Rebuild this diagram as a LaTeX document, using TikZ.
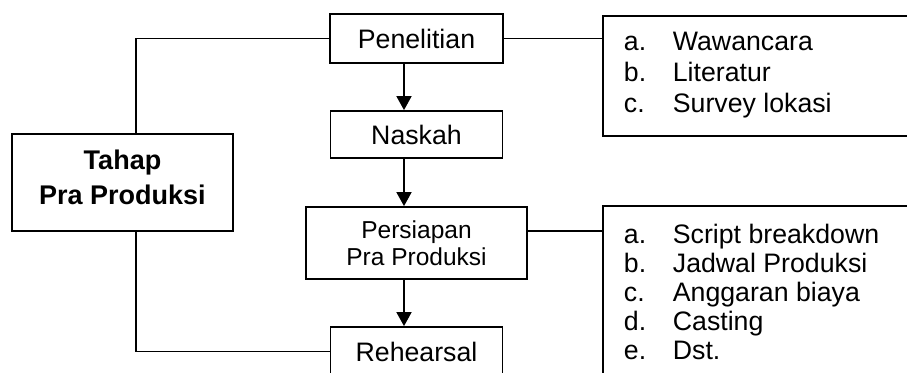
\documentclass[tikz,border=0pt]{standalone}
\usepackage{fontspec}
\setmainfont{Liberation Sans}
\usetikzlibrary{arrows.meta}
\tikzset{
  stepbox/.style={draw, rectangle, inner sep=0pt, align=center,
    font=\fontsize{26.7}{31}\selectfont},
  listbox/.style={draw, rectangle, inner sep=0pt, anchor=north west},
  listitem/.style={anchor=base west, inner sep=0pt,
    font=\fontsize{26.7}{31}\selectfont},
  link/.style={line width=1.8pt},
  flow/.style={link, -{Triangle[width=15pt,length=14pt]}}
}
\newcommand{\lbl}[1]{\makebox[49pt][l]{#1}}
\begin{document}
\begin{tikzpicture}[x=1pt, y=-1pt, line width=1.8pt]
\useasboundingbox (0,0) rectangle (907,372);
\clip (0,0) rectangle (907,372);
\fill[white] (0,0) rectangle (907,372);

% main steps
\node[stepbox, minimum width=173pt, minimum height=49pt] (pen) at (416.5,38.5) {Penelitian};
\node[stepbox, minimum width=172pt, minimum height=47pt] (nas) at (416.5,134.5) {Naskah};
\node[stepbox, minimum width=221pt, minimum height=72pt,
      font=\fontsize{24.5}{27}\selectfont] (pers) at (416.5,243) {Persiapan\\Pra Produksi};
\node[stepbox, minimum width=172pt, minimum height=49pt] (reh) at (416.5,351.5) {Rehearsal};

% stage box
\node[stepbox, minimum width=221pt, minimum height=97pt,
      font=\fontsize{27}{35}\selectfont\bfseries] (tahap) at (122.5,182.5)
      {Tahap\\Pra Produksi\rule[-10pt]{0pt}{10pt}};

% detail boxes (run past the right and bottom edges)
\node[listbox, minimum width=340pt, minimum height=120pt] (list1) at (602,15) {};
\node[listbox, minimum width=340pt, minimum height=190pt] (list2) at (602,205) {};

% detail items
\node[listitem] (l1a) at (623,50)  {\lbl{a.}Wawancara};
\node[listitem] (l1b) at (623,81)  {\lbl{b.}Literatur};
\node[listitem] (l1c) at (623,112) {\lbl{c.}Survey lokasi};

\node[listitem] (l2a) at (623,243) {\lbl{a.}Script breakdown};
\node[listitem] (l2b) at (623,272) {\lbl{b.}Jadwal Produksi};
\node[listitem] (l2c) at (623,301) {\lbl{c.}Anggaran biaya};
\node[listitem] (l2d) at (623,330) {\lbl{d.}Casting};
\node[listitem] (l2e) at (623,359) {\lbl{e.}Dst.};

% flow arrows
\draw[flow] ([xshift=-12.5pt]pen.south) -- ([xshift=-12.5pt]nas.north);
\draw[flow] ([xshift=-12.5pt]nas.south) -- ([xshift=-12.5pt]pers.north);
\draw[flow] ([xshift=-12.5pt]pers.south) -- ([xshift=-12.5pt]reh.north);

% stage links
\draw[link] ([xshift=13.5pt]tahap.north) |- (pen.west);
\draw[link] ([xshift=13.5pt]tahap.south) |- (reh.west);

% detail links
\draw[link] (pen.east) -- (pen.east -| list1.west);
\draw[link] ([yshift=12pt]pers.east) -- ([yshift=12pt]pers.east -| list2.west);
\end{tikzpicture}
\end{document}
